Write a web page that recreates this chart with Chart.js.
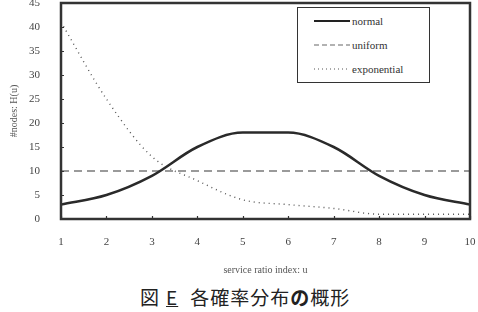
<!DOCTYPE html>
<html>
<head>
<meta charset="utf-8">
<script src="https://cdn.jsdelivr.net/npm/chart.js@4/dist/chart.umd.min.js"></script>
<style>
  body { margin: 0; background: #fff; width: 478px; height: 312px; overflow: hidden; position: relative; }
  #wrap { position: absolute; left: 0; top: 0; width: 478px; height: 280px; }
  #legend { position: absolute; left: 297px; top: 7px; width: 131px; height: 74px; border: 1.5px solid #333; background: #fff;
    font-family: "Liberation Serif", serif; font-size: 11px; color: #333; }
  .row { position: absolute; left: 16px; height: 12px; display: flex; align-items: center; }
  .row svg { margin-right: 2px; }
  #caption { position: absolute; left: 140px; top: 283px; font-family: "Noto Sans CJK JP", sans-serif; font-size: 19px; letter-spacing: 1px; color: #222; white-space: nowrap; }
  #caption u { margin: 0 12px 0 6px; }
</style>
</head>
<body>
<div id="wrap"><canvas id="grafica" width="478" height="280"></canvas></div>
<div id="legend">
  <div class="row" style="top:7px"><svg width="36" height="6"><line x1="0" y1="3" x2="36" y2="3" stroke="#222" stroke-width="2"/></svg>normal</div>
  <div class="row" style="top:31px"><svg width="36" height="6"><line x1="0" y1="3" x2="36" y2="3" stroke="#999" stroke-width="1.5" stroke-dasharray="5,3"/></svg>uniform</div>
  <div class="row" style="top:55px"><svg width="36" height="6"><line x1="0" y1="3" x2="36" y2="3" stroke="#555" stroke-width="1.2" stroke-dasharray="1,3"/></svg>exponential</div>
</div>
<div id="caption">図<u>E</u>各確率分布<b>の</b>概形</div>
<script>
  const labels = [1, 2, 3, 4, 5, 6, 7, 8, 9, 10];
  const normal = [3, 5, 9, 15, 18, 18, 15, 9, 5, 3];
  const uniform = [10, 10, 10, 10, 10, 10, 10, 10, 10, 10];
  const exponential = [41, 25, 13, 8, 4, 3, 2.2, 1, 1, 1];

  const frame = {
    id: 'frame',
    afterDatasetsDraw(chart) {
      const ctx = chart.ctx;
      const a = chart.chartArea;
      const xs = chart.scales.x, ys = chart.scales.y;
      ctx.save();
      ctx.strokeStyle = '#333';
      ctx.lineWidth = 1.2;
      ctx.beginPath();
      xs.ticks.forEach((t, i) => {
        const px = Math.round(xs.getPixelForTick(i)) + 0.5;
        ctx.moveTo(px, a.bottom);
        ctx.lineTo(px, a.bottom - 3);
      });
      ys.ticks.forEach((t, i) => {
        const py = Math.round(ys.getPixelForTick(i)) + 0.5;
        ctx.moveTo(a.left, py);
        ctx.lineTo(a.left + 3, py);
      });
      ctx.stroke();
      ctx.lineWidth = 2.5;
      ctx.strokeRect(a.left, a.top, a.right - a.left, a.bottom - a.top);
      ctx.restore();
    }
  };

  const graph = document.getElementById('grafica');
  const myChart = new Chart(graph, {
    type: 'line',
    data: {
      labels: labels,
      datasets: [
        { label: 'normal', data: normal, borderColor: '#2a2a2a', borderWidth: 2.5, cubicInterpolationMode: 'monotone', pointRadius: 0 },
        { label: 'uniform', data: uniform, borderColor: '#9a9a9a', borderWidth: 2, borderDash: [8, 5], pointRadius: 0 },
        { label: 'exponential', data: exponential, borderColor: '#555', borderWidth: 1.4, borderDash: [1, 4], cubicInterpolationMode: 'monotone', pointRadius: 0 },
      ],
    },
    options: {
      responsive: false,
      animation: false,
      layout: { padding: { top: 3, right: 8, left: 0, bottom: 0 } },
      plugins: { legend: { display: false }, tooltip: { enabled: false } },
      scales: {
        x: {
          offset: false,
          grid: { display: false },
          border: { display: false },
          ticks: { color: '#444', padding: 9, maxRotation: 0, font: { family: 'Liberation Serif', size: 11 } },
          title: { display: true, text: 'service ratio index: u', color: '#555', padding: { top: 12 }, font: { family: 'Liberation Serif', size: 10 } },
          afterFit: (s) => { s.height = 61; s.paddingLeft = 0; s.paddingRight = 0; },
        },
        y: {
          min: 0, max: 45,
          grid: { display: false },
          border: { display: false },
          ticks: { stepSize: 5, color: '#444', padding: 13, font: { family: 'Liberation Serif', size: 11 } },
          title: { display: true, text: '#nodes: H(u)', color: '#555', padding: { top: 8, bottom: 0 }, font: { family: 'Liberation Serif', size: 10 } },
          afterFit: (s) => { s.width = 61; s.paddingTop = 0; s.paddingBottom = 0; },
        },
      },
    },
    plugins: [frame],
  });
</script>
</body>
</html>
